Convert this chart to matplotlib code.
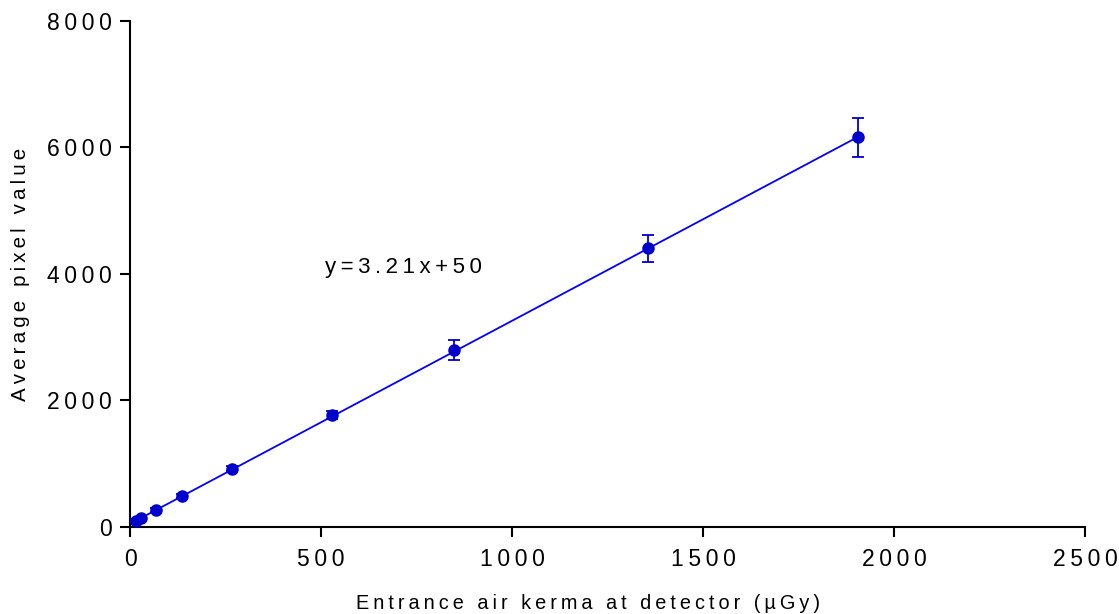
import matplotlib
matplotlib.use("Agg")
import matplotlib.pyplot as plt
import numpy as np

plt.rcParams["font.family"] = ["Liberation Sans", "DejaVu Sans"]

# entrance air kerma (uGy) vs mean pixel value, with SD
kerma = [15, 30, 68, 135, 267, 530, 847, 1357, 1906]
pixel = [100, 145, 270, 495, 920, 1770, 2800, 4405, 6160]
pixel_sd = [20, 20, 25, 30, 40, 70, 160, 215, 310]
slope, intercept = 3.21, 50

xticks = [0, 500, 1000, 1500, 2000, 2500]
yticks = [0, 2000, 4000, 6000, 8000]


def spaced(s):
    # wide tracking like the original software output
    return "\u2009".join(s)


fig = plt.figure(figsize=(11.19, 6.14), dpi=100)
ax = fig.add_axes([0.1162, 0.1417, 0.8534, 0.8241])

fit_x = np.array([kerma[0] - 5, kerma[-1]])
ax.plot(fit_x, slope * fit_x + intercept, color="#0000ff", lw=1.3, zorder=2)
ax.errorbar(kerma, pixel, yerr=pixel_sd, fmt="o", color="#0000cd", ms=8,
            elinewidth=1.3, capsize=4.5, capthick=1.3, zorder=3)

ax.text(510, 4100, spaced("y=3.21x+50"), fontsize=16, va="center", ha="left")

ax.set_xlim(0, 2500)
ax.set_ylim(0, 8000)
ax.set_xticks(xticks)
ax.set_yticks(yticks)
ax.set_xticklabels([spaced(str(t)) for t in xticks])
ax.set_yticklabels([spaced(str(t)) for t in yticks])
ax.tick_params(direction="out", length=7, width=1.5, labelsize=16.5)
ax.tick_params(axis="x", pad=8)
ax.tick_params(axis="y", pad=6)
ax.spines[["top", "right"]].set_visible(False)
ax.spines[["left", "bottom"]].set_linewidth(1.5)

ax.set_xlabel(spaced("Entrance air kerma at detector (\u00b5Gy)"), fontsize=14.3,
              va="center")
ax.xaxis.set_label_coords(0.48, -0.152)
ax.set_ylabel(spaced("Average pixel value"), fontsize=14.8, va="center")
ax.yaxis.set_label_coords(-0.115, 0.5)

fig.savefig("out.png", dpi=100)
